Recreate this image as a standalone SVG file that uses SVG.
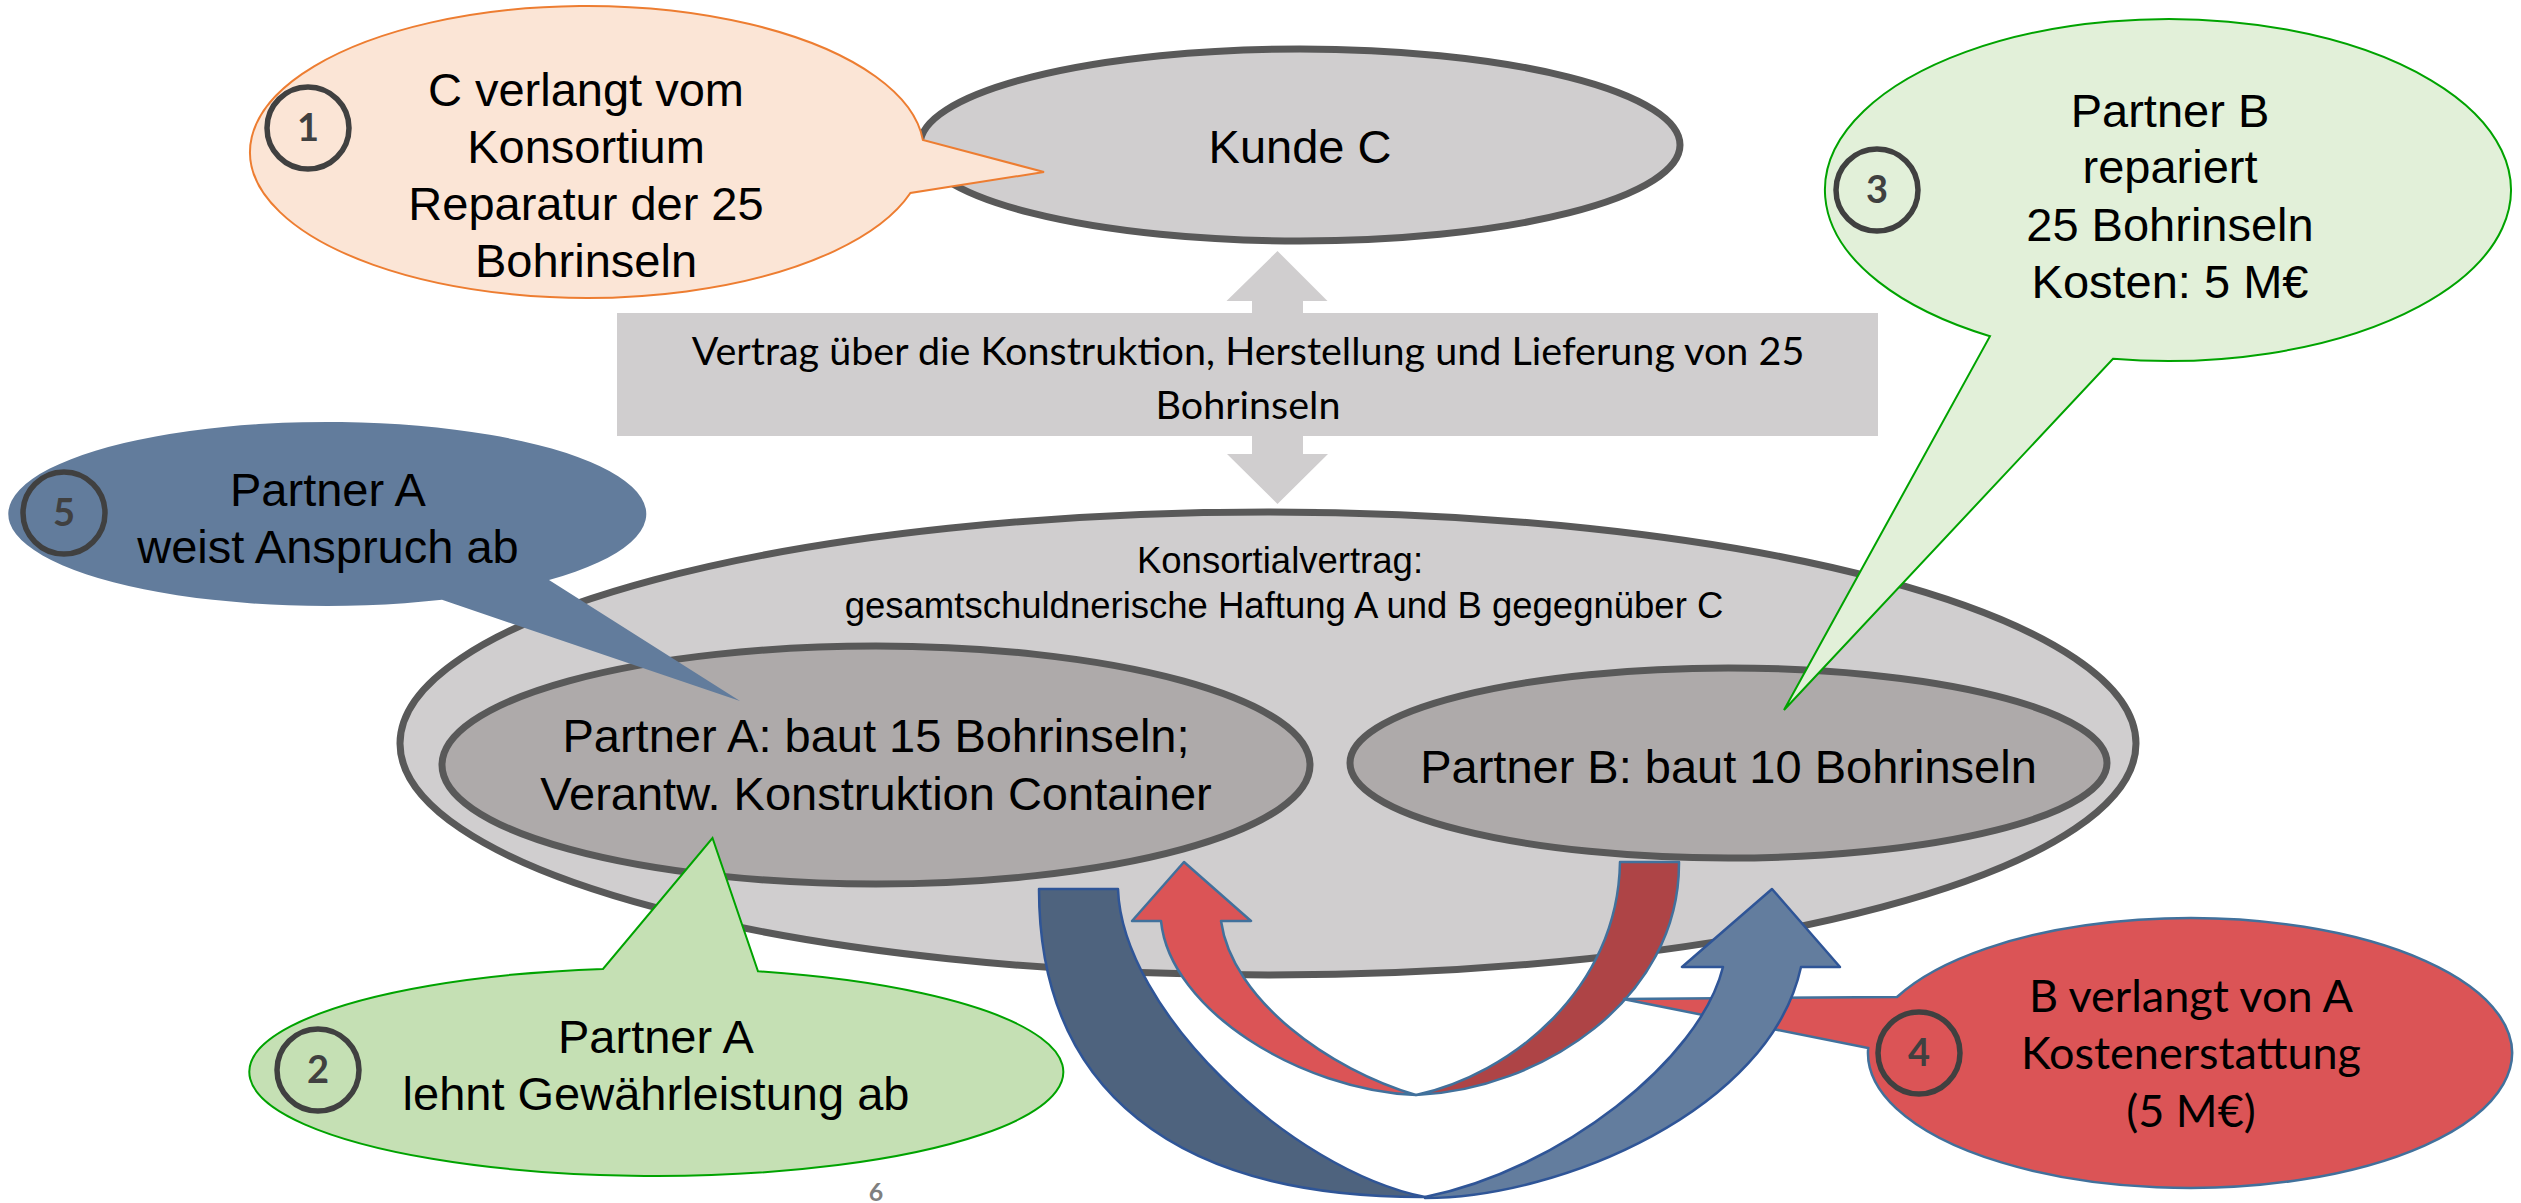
<svg xmlns="http://www.w3.org/2000/svg" width="2521" height="1203" viewBox="0 0 2521 1203">
  <style>
    .ar { font-family: "Liberation Sans", Arial, sans-serif; fill: #000; text-anchor: middle; }
    .ca { font-family: Lato, "Open Sans", sans-serif; fill: #000; text-anchor: middle; }
    .big { font-size: 47px; }
    .gray { fill: #d0cecf; }
    .node { fill: #d0cecf; stroke: #595959; stroke-width: 7; }
    .partner { fill: #aeaaaa; stroke: #595959; stroke-width: 7; }
    .num circle { fill: none; stroke: #404040; stroke-width: 5.5; }
    .num text { font-family: Lato, "Open Sans", sans-serif; font-weight: 700; font-size: 38px; fill: #404040; text-anchor: middle; }
  </style>

  <!-- contract bar with double arrow between customer and consortium -->
  <g id="vertrag">
    <path class="gray" d="M1252,313 V301 H1226.5 L1277.5,251 L1327.5,301 H1303 V313 Z"/>
    <rect class="gray" x="617" y="313" width="1261" height="123"/>
    <path class="gray" d="M1252,436 V454 H1227 L1277.5,504 L1328,454 H1303 V436 Z"/>
    <text class="ca" font-size="39.5" x="1248" y="365">Vertrag über die Konstruktion, Herstellung und Lieferung von 25</text>
    <text class="ca" font-size="39.5" x="1248" y="419">Bohrinseln</text>
  </g>

  <g id="kunde-c">
    <ellipse class="node" cx="1300" cy="145" rx="380" ry="96"/>
    <text class="ar big" x="1300" y="163">Kunde C</text>
  </g>

  <g id="konsortium">
    <ellipse class="node" cx="1268" cy="743.5" rx="868" ry="231.5"/>
    <text class="ar" font-size="36.5" x="1280" y="573">Konsortialvertrag:</text>
    <text class="ar" font-size="36.5" x="1284" y="618">gesamtschuldnerische Haftung A und B gegegnüber C</text>
  </g>

  <g id="partner-a">
    <ellipse class="partner" cx="876" cy="765" rx="434" ry="119"/>
    <text class="ar big" x="876" y="752">Partner A: baut 15 Bohrinseln;</text>
    <text class="ar big" x="876" y="810">Verantw. Konstruktion Container</text>
  </g>

  <g id="partner-b">
    <ellipse class="partner" cx="1728.5" cy="763" rx="378.5" ry="95"/>
    <text class="ar big" x="1728.5" y="783">Partner B: baut 10 Bohrinseln</text>
  </g>

  <g id="connectors">
    <!-- B -> A: red curved arrow -->
    <g id="pfeil-b-a" stroke="#41719c" stroke-width="2.5" stroke-linejoin="round">
      <path fill="#ae4446" d="M1620,862 L1679,862 C1680,1000 1540,1090 1416,1095 C1510,1075 1618,990 1620,862 Z"/>
      <path fill="#db5456" d="M1416,1095 C1300,1090 1170,1010 1161,921 L1132,921 L1184,862 L1251,921 L1221,921 C1232,1000 1330,1070 1416,1095 Z"/>
    </g>
  </g>

  <g id="blase-4">
    <path fill="#db5456" stroke="#41719c" stroke-width="2.5" d="M1897,997 A322 135 0 1 1 1868.2,1048 L1623,999 Z"/>
    <g class="num"><circle cx="1919" cy="1053" r="41"/><text x="1919" y="1066">4</text></g>
    <text class="ca" font-size="45" x="2191" y="1012">B verlangt von A</text>
    <text class="ca" font-size="45" x="2191" y="1069">Kostenerstattung</text>
    <text class="ca" font-size="45" x="2191" y="1127">(5 M€)</text>
  </g>

  <g id="connectors-2">
    <!-- A -> B: blue curved arrow -->
    <g id="pfeil-a-b" stroke="#2f5597" stroke-width="2.5" stroke-linejoin="round">
      <path fill="#4e637e" d="M1039,889 L1118,889 C1122,1010 1290,1170 1425,1197 C1174,1198 1039,1090 1039,889 Z"/>
      <path fill="#637d9e" d="M1425,1198 C1560,1198 1770,1110 1801,967 L1840,967 L1772,889 L1682,967 L1723,967 C1700,1060 1560,1170 1425,1197 Z"/>
    </g>
  </g>

  <g id="blase-1">
    <path fill="#fbe5d6" stroke="#ed7d31" stroke-width="2" d="M922.9,140 A337 146 0 1 0 910.4,193 L1044,172 Z"/>
    <g class="num"><circle cx="308" cy="128" r="41"/><text x="308" y="141">1</text></g>
    <text class="ar big" x="586" y="106">C verlangt vom</text>
    <text class="ar big" x="586" y="163">Konsortium</text>
    <text class="ar big" x="586" y="220">Reparatur der 25</text>
    <text class="ar big" x="586" y="277">Bohrinseln</text>
  </g>

  <g id="blase-3">
    <path fill="#e2f0d9" stroke="#00a300" stroke-width="2" d="M1990,336.2 A343 171 0 1 1 2113,358.8 L1784,710 Z"/>
    <g class="num"><circle cx="1877" cy="190" r="41"/><text x="1877" y="203">3</text></g>
    <text class="ar big" x="2170" y="127">Partner B</text>
    <text class="ar big" x="2170" y="183">repariert</text>
    <text class="ar big" x="2170" y="241">25 Bohrinseln</text>
    <text class="ar big" x="2170" y="298">Kosten: 5 M€</text>
  </g>

  <g id="blase-5">
    <path fill="#627c9c" d="M549,580.1 A319 92 0 1 0 442,599.8 L740,701 Z"/>
    <g class="num"><circle cx="64" cy="513" r="41"/><text x="64" y="526">5</text></g>
    <text class="ar big" x="328" y="506">Partner A</text>
    <text class="ar big" x="328" y="563">weist Anspruch ab</text>
  </g>

  <g id="blase-2">
    <path fill="#c5e0b4" stroke="#00a300" stroke-width="2" d="M758,971.3 A407 104 0 1 1 603,968.9 L712.5,838 Z"/>
    <g class="num"><circle cx="318" cy="1070" r="41"/><text x="318" y="1083">2</text></g>
    <text class="ar big" x="656" y="1053">Partner A</text>
    <text class="ar big" x="656" y="1110">lehnt Gewährleistung ab</text>
  </g>

  <text id="seite" x="876" y="1201" font-family="Lato, 'Open Sans', sans-serif" font-weight="700" font-size="25" fill="#7f7f7f" text-anchor="middle">6</text>
</svg>
